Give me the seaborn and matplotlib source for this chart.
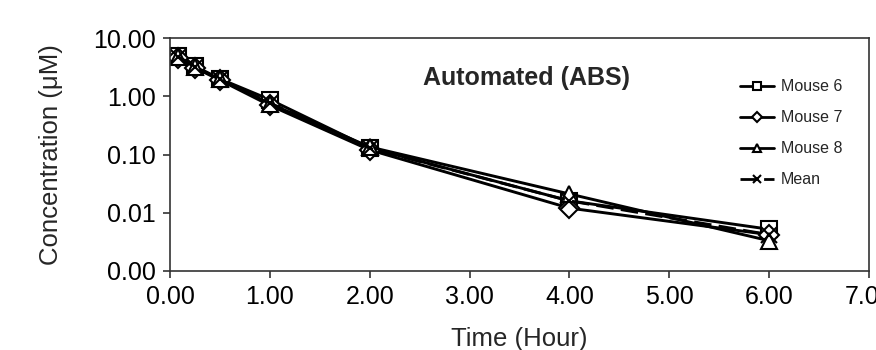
import numpy as np
import pandas as pd
import matplotlib
matplotlib.use("Agg")
import matplotlib.pyplot as plt
import seaborn as sns
from matplotlib.ticker import FixedLocator, FuncFormatter, NullLocator

sns.set_theme(style="white")
plt.rcParams['font.family'] = ['Liberation Sans', 'DejaVu Sans']

time_h = [0.083, 0.25, 0.5, 1.0, 2.0, 4.0, 6.0]
mouse6 = [5.0, 3.3, 2.0, 0.88, 0.13, 0.016, 0.0052]
mouse7 = [4.6, 3.1, 1.9, 0.70, 0.12, 0.012, 0.0042]
mouse8 = [4.8, 3.2, 1.95, 0.75, 0.135, 0.021, 0.0033]
mean_v = [4.8, 3.2, 1.95, 0.77, 0.128, 0.016, 0.0042]

series_names = ["Mouse 6", "Mouse 7", "Mouse 8", "Mean"]
series_vals = [mouse6, mouse7, mouse8, mean_v]
y_ticks = [0.001, 0.01, 0.1, 1, 10]
x_ticks = [0, 1, 2, 3, 4, 5, 6, 7]

styles = {
    "Mouse 6": dict(marker="s", markersize=11, linestyle="-"),
    "Mouse 7": dict(marker="D", markersize=10, linestyle="-"),
    "Mouse 8": dict(marker="^", markersize=12, linestyle="-"),
    "Mean": dict(marker="x", markersize=12, linestyle=(0, (6, 2.5))),
}

fig = plt.figure(figsize=(8.76, 3.5), dpi=100)
ax = fig.add_axes([0.194, 0.226, 0.798, 0.665])

for name, vals in zip(series_names, series_vals):
    df = pd.DataFrame({"Time": time_h, "Conc": vals})
    st = styles[name]
    sns.lineplot(data=df, x="Time", y="Conc", ax=ax, color="black",
                 linewidth=2.1, marker=st["marker"], markersize=st["markersize"],
                 markerfacecolor="white", markeredgecolor="black",
                 markeredgewidth=1.5, linestyle=st["linestyle"], label=name)

ax.set_yscale("log")
ax.set_ylim(0.001, 10)
ax.set_xlim(0, 7)
ax.yaxis.set_major_locator(FixedLocator(y_ticks))
ax.yaxis.set_minor_locator(NullLocator())
ax.yaxis.set_major_formatter(FuncFormatter(lambda v, p: f"{v:.2f}"))
ax.xaxis.set_major_locator(FixedLocator(x_ticks))
ax.xaxis.set_major_formatter(FuncFormatter(lambda v, p: f"{v:.2f}"))

for s in ax.spines.values():
    s.set_color("#333333")
    s.set_linewidth(1.2)
ax.tick_params(axis="both", which="major", direction="out", length=5, width=1.2,
               color="#333333", labelsize=18, labelcolor="black", pad=5,
               left=True, bottom=True)

ax.set_xlabel("Time (Hour)", fontsize=18.5, labelpad=13)
ax.set_ylabel("Concentration (μM)", fontsize=18.5, labelpad=22)

ax.text(0.51, 0.83, "Automated (ABS)", transform=ax.transAxes, fontsize=18,
        fontweight="bold", ha="center", va="center")

h, l = ax.get_legend_handles_labels()
leg = ax.legend(h, l, loc="upper left", bbox_to_anchor=(0.795, 0.885),
                frameon=False, fontsize=11.5, markerscale=0.5,
                handlelength=2.1, handletextpad=0.45, labelspacing=1.0)
for lh in leg.get_lines():
    lh.set_linewidth(2.0)

fig.savefig("out.png", dpi=100)
